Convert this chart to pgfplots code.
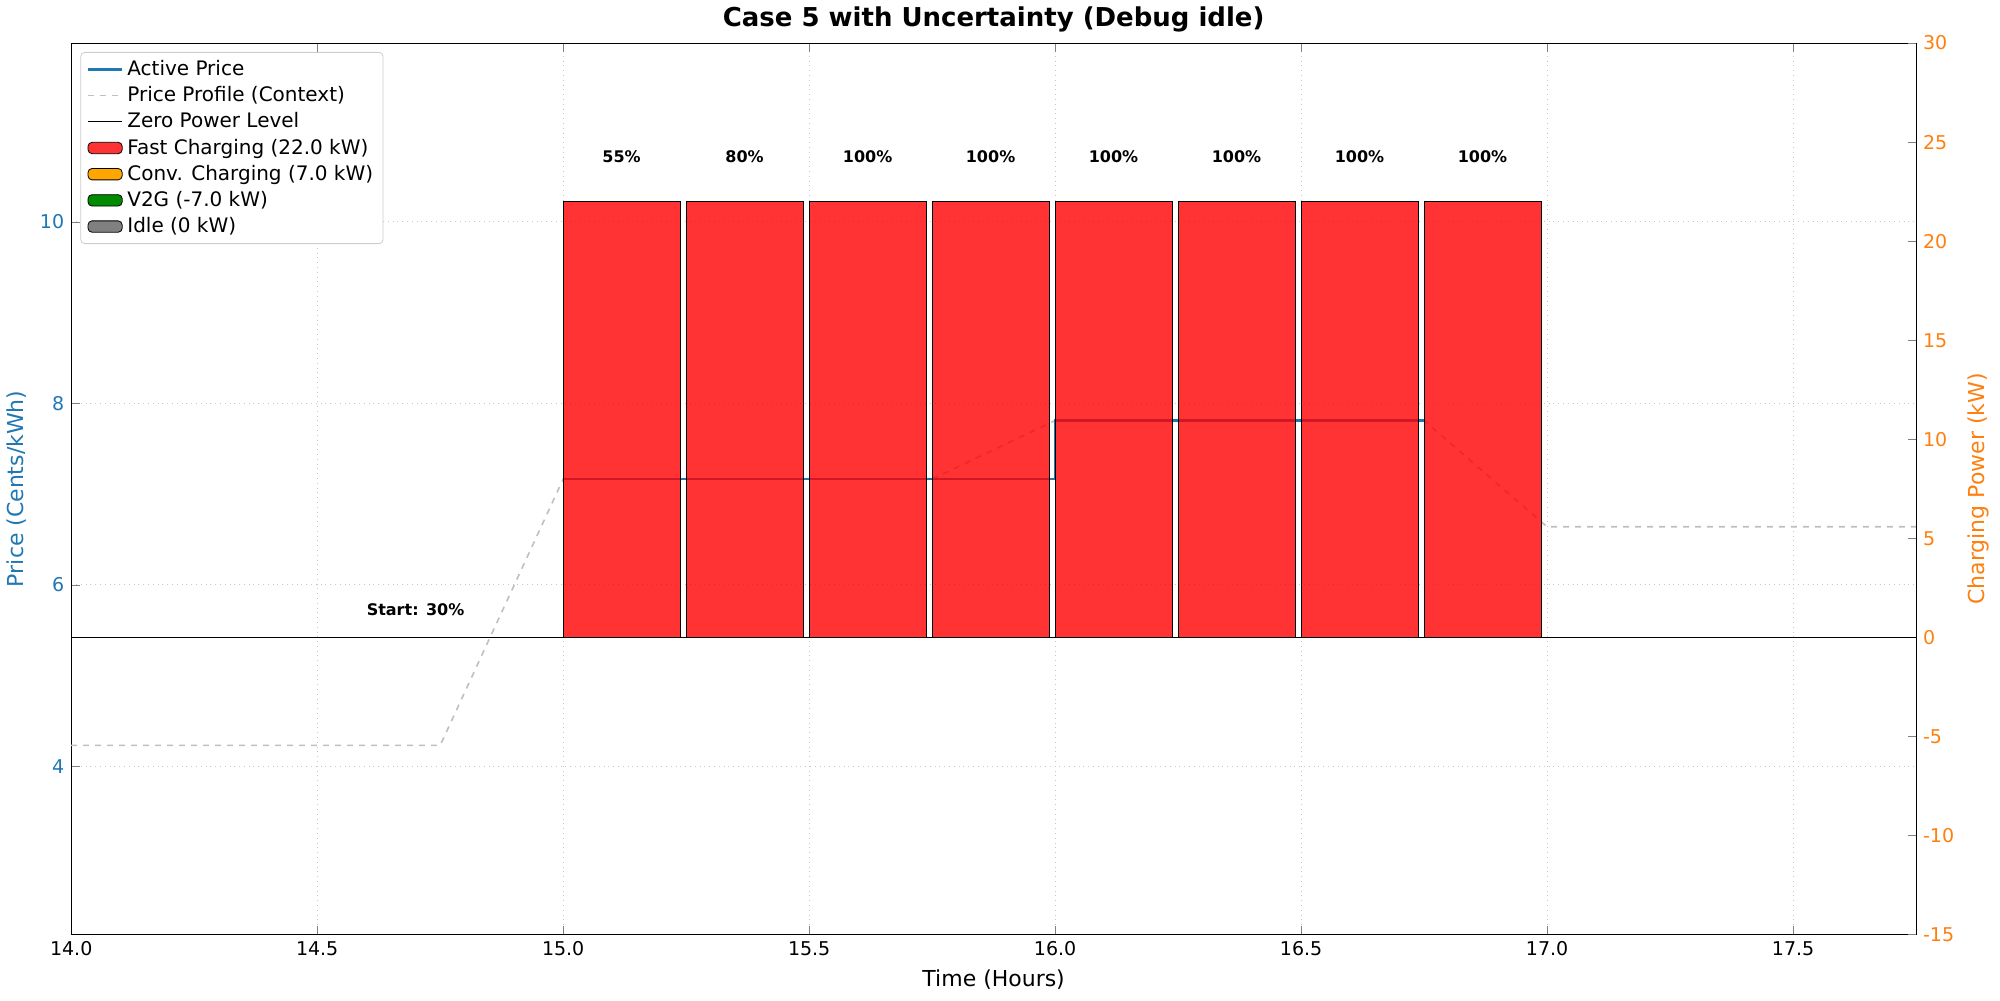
\documentclass[border=0pt]{standalone}
\usepackage{pgfplots}
\pgfplotsset{compat=1.18}
\usepackage{fontspec}
\setmainfont{DejaVu Sans}
\definecolor{mblue}{RGB}{31,119,180}
\definecolor{morange}{RGB}{255,127,14}
\begin{document}
\begin{tikzpicture}
\pgfplotsset{every axis/.append style={scale only axis,width=923pt,height=446pt,xmin=14,xmax=17.75,
 tick label style={font=\fontsize{9.5}{11}\selectfont},
 /pgf/number format/assume math mode=true}}
\begin{axis}[at={(0,0)},anchor=south west,ymin=2.146,ymax=11.97,axis y line*=left,
 xtick={14,14.5,...,17.5}, xticklabels={14.0,14.5,15.0,15.5,16.0,16.5,17.0,17.5},
 ytick={4,6,8,10}, yticklabel style={text=mblue},
 grid=major, grid style={gray!45,dotted},
 xlabel={Time (Hours)}, ylabel={Price (Cents/kWh)}, ylabel style={text=mblue},
 label style={font=\fontsize{11}{13}\selectfont},
 title={\bfseries Case 5 with Uncertainty (Debug idle)}, title style={font=\fontsize{13}{15}\selectfont,yshift=-4pt}]
\addplot[gray!50,dashed,thick] coordinates {(14,4.23)(14.75,4.23)(15,7.165)(15.75,7.165)(16,7.81)(16.75,7.81)(17,6.64)(17.75,6.64)};
\addplot[mblue,very thick] coordinates {(15,7.165)(16,7.165)(16,7.81)(16.75,7.81)};
\end{axis}
\begin{axis}[at={(0,0)},anchor=south west,ymin=-15,ymax=30,axis y line*=right,axis x line=none,
 ytick={-15,-10,...,30}, yticklabel style={text=morange},
 ylabel={Charging Power (kW)}, ylabel style={text=morange,font=\fontsize{11}{13}\selectfont},
 legend style={at={(0.005,0.99)},anchor=north west,font=\fontsize{10}{12}\selectfont,draw=gray!40,rounded corners=2pt,row sep=0pt},
 legend cell align=left]
\addlegendimage{mblue,very thick}\addlegendentry{Active Price}
\addlegendimage{gray!50,dashed,thick}\addlegendentry{Price Profile (Context)}
\addlegendimage{black,semithick}\addlegendentry{Zero Power Level}
\addlegendimage{area legend,fill=red!80,draw=black}\addlegendentry{Fast Charging (22.0 kW)}
\addlegendimage{area legend,fill=orange!70!yellow,draw=black}\addlegendentry{Conv. Charging (7.0 kW)}
\addlegendimage{area legend,fill=green!55!black,draw=black}\addlegendentry{V2G (-7.0 kW)}
\addlegendimage{area legend,fill=gray,draw=black}\addlegendentry{Idle (0 kW)}
\addplot[black,semithick,forget plot] coordinates {(14,0)(17.75,0)};
\addplot[ybar,bar width=0.2375,fill=red,fill opacity=0.8,draw=black,very thin,forget plot,
 nodes near coords,point meta=explicit symbolic,
 every node near coord/.append style={font=\bfseries\fontsize{8}{9}\selectfont,text=black,fill opacity=1,yshift=16pt}]
 coordinates {(15.11875,22)[55\%] (15.36875,22)[80\%] (15.61875,22)[100\%] (15.86875,22)[100\%]
 (16.11875,22)[100\%] (16.36875,22)[100\%] (16.61875,22)[100\%] (16.86875,22)[100\%]};
\node[font=\bfseries\fontsize{8}{9}\selectfont] at (axis cs:14.7,1.4) {Start: 30\%};
\end{axis}
\useasboundingbox (-35pt,-33pt) rectangle (965pt,467pt);
\end{tikzpicture}
\end{document}
